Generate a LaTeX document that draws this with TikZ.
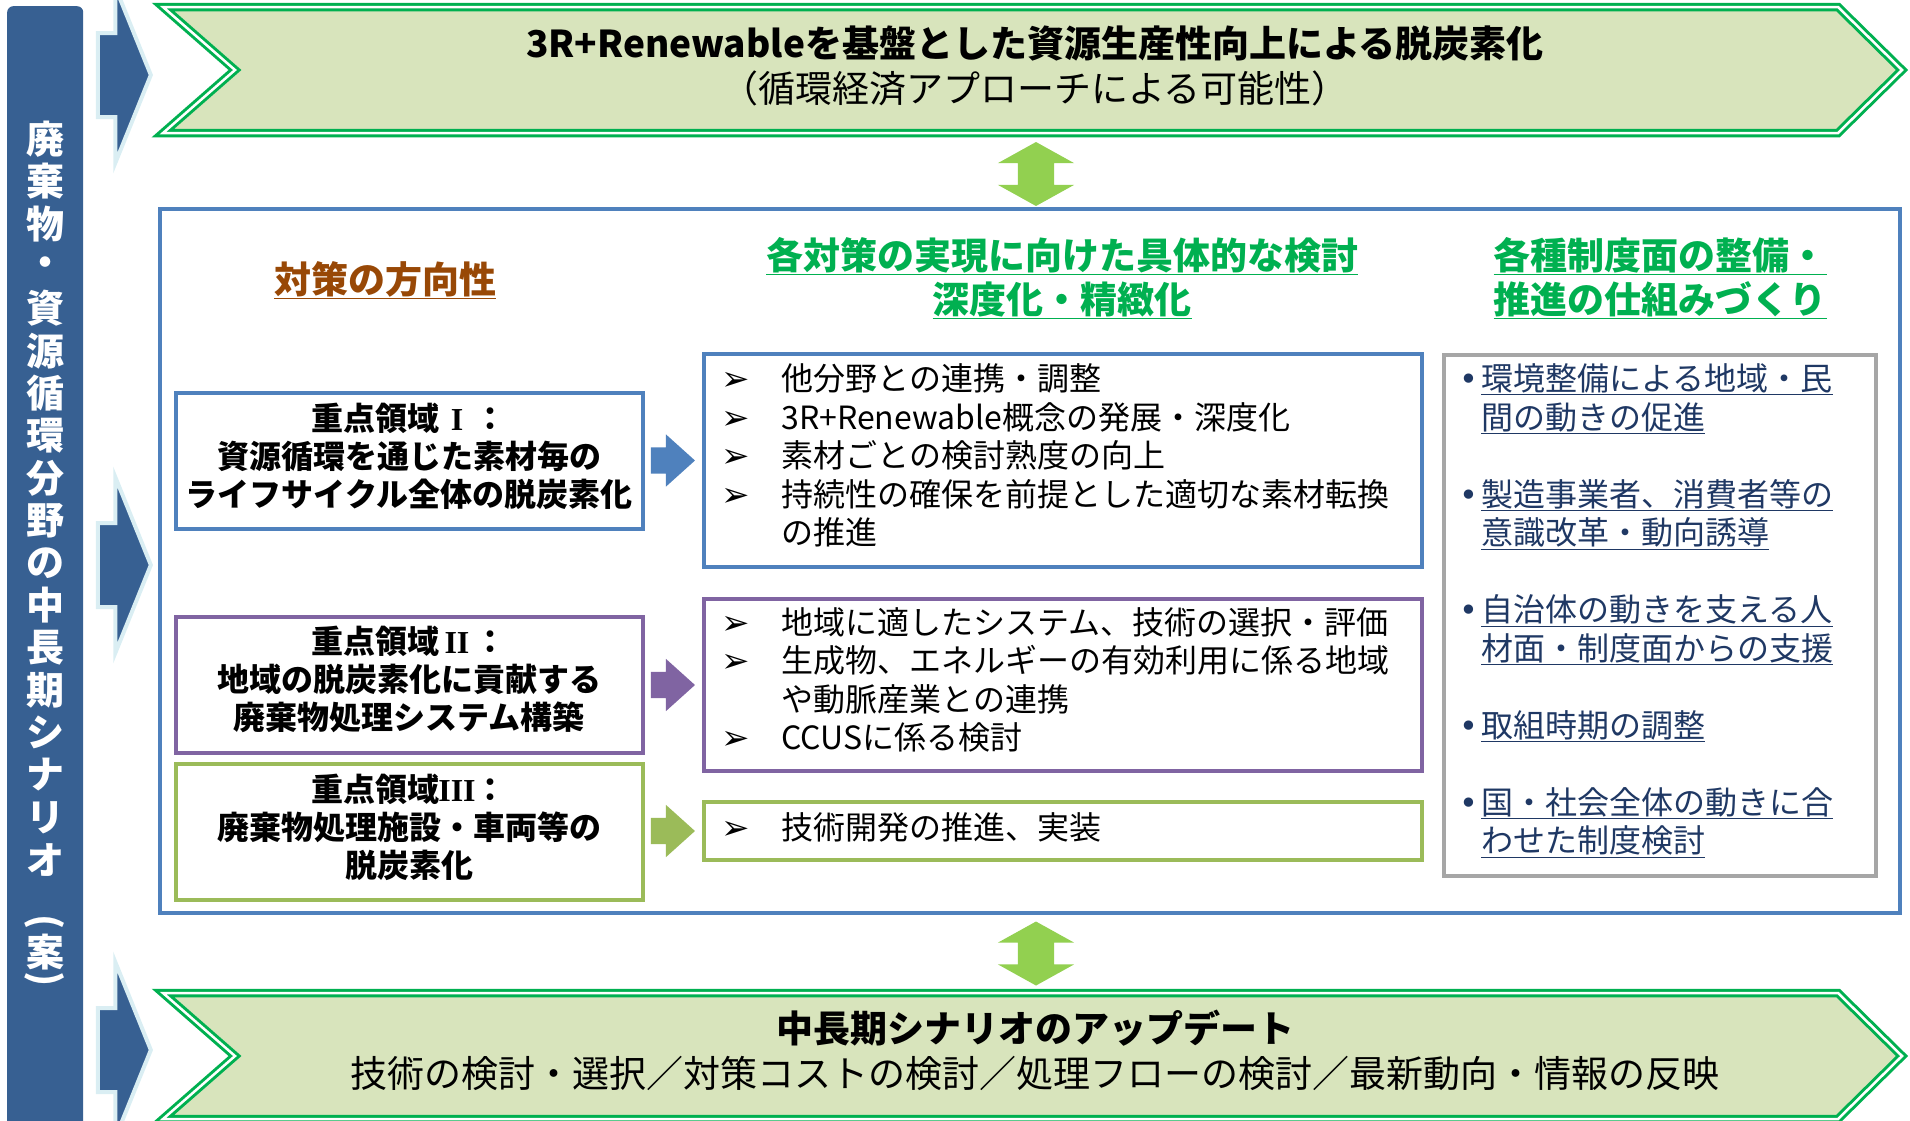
\documentclass[tikz,border=0pt]{standalone}
\usepackage{fontspec}
\setmainfont{Noto Sans CJK JP}
\newfontfamily\dejavusym{DejaVu Sans}
\newfontfamily\numeralfont{Liberation Serif}
\usepackage{xcolor}
\definecolor{barblue}{HTML}{376092}
\definecolor{barrim}{HTML}{DAEEF3}
\definecolor{bannerline}{HTML}{00B050}
\definecolor{bannerfill}{HTML}{D8E4BC}
\definecolor{frameblue}{HTML}{4F81BD}
\definecolor{areapurple}{HTML}{8064A2}
\definecolor{areagreen}{HTML}{9BBB59}
\definecolor{hdrbrown}{HTML}{984806}
\definecolor{hdrgreen}{HTML}{00B050}
\definecolor{linkgreen}{HTML}{92D050}
\definecolor{listgray}{HTML}{A6A6A6}
\definecolor{listink}{HTML}{1F3864}
\usepackage{tikz}
\usetikzlibrary{shapes.arrows, positioning, calc}

\newcommand{\arrbul}{\makebox[60pt][l]{\dejavusym\fontsize{34}{34}\selectfont ➢}}
\newcommand{\dotbul}{\makebox[22pt][l]{\dejavusym\fontsize{32}{32}\selectfont •}}
\newcommand{\areanum}[1]{\makebox[1.1em][c]{\numeralfont\bfseries #1}}

\begin{document}
\begin{tikzpicture}[
  x=1pt, y=-1pt,
  banner/.style={
    fill=bannerfill, draw=bannerline, line width=3pt,
    double=white, double distance=2.5pt
  },
  sidearrow/.style={
    single arrow, fill=barblue, draw=barrim, line width=4pt,
    inner xsep=0pt, inner ysep=40pt, minimum height=53pt,
    single arrow head extend=46pt, single arrow tip angle=136, anchor=tip
  },
  blockarr/.style={
    single arrow, inner xsep=0pt, inner ysep=13pt, minimum height=44pt,
    single arrow head extend=13pt, single arrow tip angle=84, anchor=tip
  },
  linkarr/.style={
    double arrow, fill=linkgreen, inner xsep=0pt, inner ysep=18pt, rotate=90,
    minimum height=64pt, double arrow head extend=20pt, double arrow tip angle=122
  },
  areabox/.style={
    draw, line width=4pt, fill=white, minimum width=467pt, minimum height=136pt,
    text depth=13pt, align=center, font=\fontsize{32}{38}\selectfont\bfseries
  },
  stepbox/.style={draw, line width=3.5pt, minimum width=718pt},
  steptext/.style={
    anchor=west, inner sep=0pt, text width=680pt, align=left,
    font=\fontsize{32}{38.5}\selectfont
  },
  hdr/.style={align=center, font=\fontsize{37}{44}\selectfont\bfseries},
  vchar/.style={text=white, inner sep=0pt, font=\fontsize{38}{38}\selectfont\bfseries}
]
  \useasboundingbox (0,0) rectangle (1910,1120);
  \clip (0,0) rectangle (1910,1120);

  % left title bar
  \node[fill=barblue, rounded corners=6pt, minimum width=76pt, minimum height=1140pt,
    anchor=north west, inner sep=0pt] (bar) at (7,6) {};
  \foreach \ch [count=\i from 0] in {廃,棄,物,・,資,源,循,環,分,野,の,中,長,期,シ,ナ,リ,オ}
    \node[vchar] (v\i) at (45,{139+42.4*\i}) {\ch};
  \node[vchar, rotate=-90] (vopen) at (45,922) {(};
  \node[vchar] (vcase) at (45,952) {案};
  \node[vchar, rotate=-90] (vclose) at (45,979) {)};

  \node[sidearrow] (s1) at (153,75) {};
  \node[sidearrow] (s2) at (153,565) {};
  \node[sidearrow] (s3) at (153,1050) {};

  % top and bottom banners
  \draw[banner] (163,7) -- (1838,7) -- (1902,70) -- (1838,133) -- (163,133) -- (235,70) -- cycle;
  \node[align=center, font=\fontsize{37}{45}\selectfont] (toptext) at (1035,66)
    {\textbf{3R+Renewableを基盤とした資源生産性向上による脱炭素化}\\（循環経済アプローチによる可能性）};

  \draw[banner] (163,993) -- (1838,993) -- (1902,1056) -- (1838,1119) -- (163,1119) -- (235,1056) -- cycle;
  \node[align=center, font=\fontsize{37}{45}\selectfont] (bottext) at (1035,1050)
    {\textbf{中長期シナリオのアップデート}\\技術の検討・選択／対策コストの検討／処理フローの検討／最新動向・情報の反映};

  \node[linkarr] (l1) at (1036,174) {};
  \node[linkarr] (l2) at (1036,953.5) {};

  % main frame
  \draw[frameblue, line width=4pt] (160,209) rectangle (1900,913);

  \node[hdr, text=hdrbrown] (h1) at (385,280) {\underline{対策の方向性}};
  \node[hdr, text=hdrgreen] (h2) at (1062,278)
    {\underline{各対策の実現に向けた具体的な検討}\\\underline{深度化・精緻化}};
  \node[hdr, text=hdrgreen] (h3) at (1660,278)
    {\underline{各種制度面の整備・}\\\underline{推進の仕組みづくり}};

  % focus areas
  \node[areabox, draw=frameblue] (f1) at (409,461)
    {重点領域\areanum{I}：\\資源循環を通じた素材毎の\\ライフサイクル全体の脱炭素化};
  \node[areabox, draw=areapurple] (f2) at (409,684.5)
    {重点領域\areanum{II}：\\地域の脱炭素化に貢献する\\廃棄物処理システム構築};
  \node[areabox, draw=areagreen] (f3) at (409,832)
    {重点領域\areanum{III}：\\廃棄物処理施設・車両等の\\脱炭素化};

  % concrete studies
  \node[stepbox, draw=frameblue, minimum height=213pt] (m1) at (1063,460.5) {};
  \node[steptext] (m1t) at ($(m1.west)+(19,-5)$)
    {\arrbul 他分野との連携・調整\\
     \arrbul 3R+Renewable概念の発展・深度化\\
     \arrbul 素材ごとの検討熟度の向上\\
     \arrbul 持続性の確保を前提とした適切な素材転換\\
     \hspace*{60pt}の推進};
  \node[stepbox, draw=areapurple, minimum height=172pt] (m2) at (1063,685) {};
  \node[steptext] (m2t) at ($(m2.west)+(19,-5)$)
    {\arrbul 地域に適したシステム、技術の選択・評価\\
     \arrbul 生成物、エネルギーの有効利用に係る地域\\
     \hspace*{60pt}や動脈産業との連携\\
     \arrbul CCUSに係る検討};
  \node[stepbox, draw=areagreen, minimum height=58pt] (m3) at (1063,831) {};
  \node[steptext] (m3t) at ($(m3.west)+(19,-4)$)
    {\arrbul 技術開発の推進、実装};

  \node[blockarr, fill=frameblue] (a1) at ($(m1.west)+(-7,0)$) {};
  \node[blockarr, fill=areapurple] (a2) at ($(m2.west)+(-7,0)$) {};
  \node[blockarr, fill=areagreen] (a3) at ($(m3.west)+(-7,0)$) {};

  % institutional measures
  \node[draw=listgray, line width=3.5pt, minimum width=432pt, minimum height=521pt] (r) at (1660,615.5) {};
  \node[steptext, text width=400pt, text=listink] (rt) at ($(r.west)+(17,-5)$)
    {\dotbul\underline{環境整備による地域・民}\\
     \hspace*{22pt}\underline{間の動きの促進}\\[38.5pt]
     \dotbul\underline{製造事業者、消費者等の}\\
     \hspace*{22pt}\underline{意識改革・動向誘導}\\[38.5pt]
     \dotbul\underline{自治体の動きを支える人}\\
     \hspace*{22pt}\underline{材面・制度面からの支援}\\[38.5pt]
     \dotbul\underline{取組時期の調整}\\[38.5pt]
     \dotbul\underline{国・社会全体の動きに合}\\
     \hspace*{22pt}\underline{わせた制度検討}};
\end{tikzpicture}
\end{document}
